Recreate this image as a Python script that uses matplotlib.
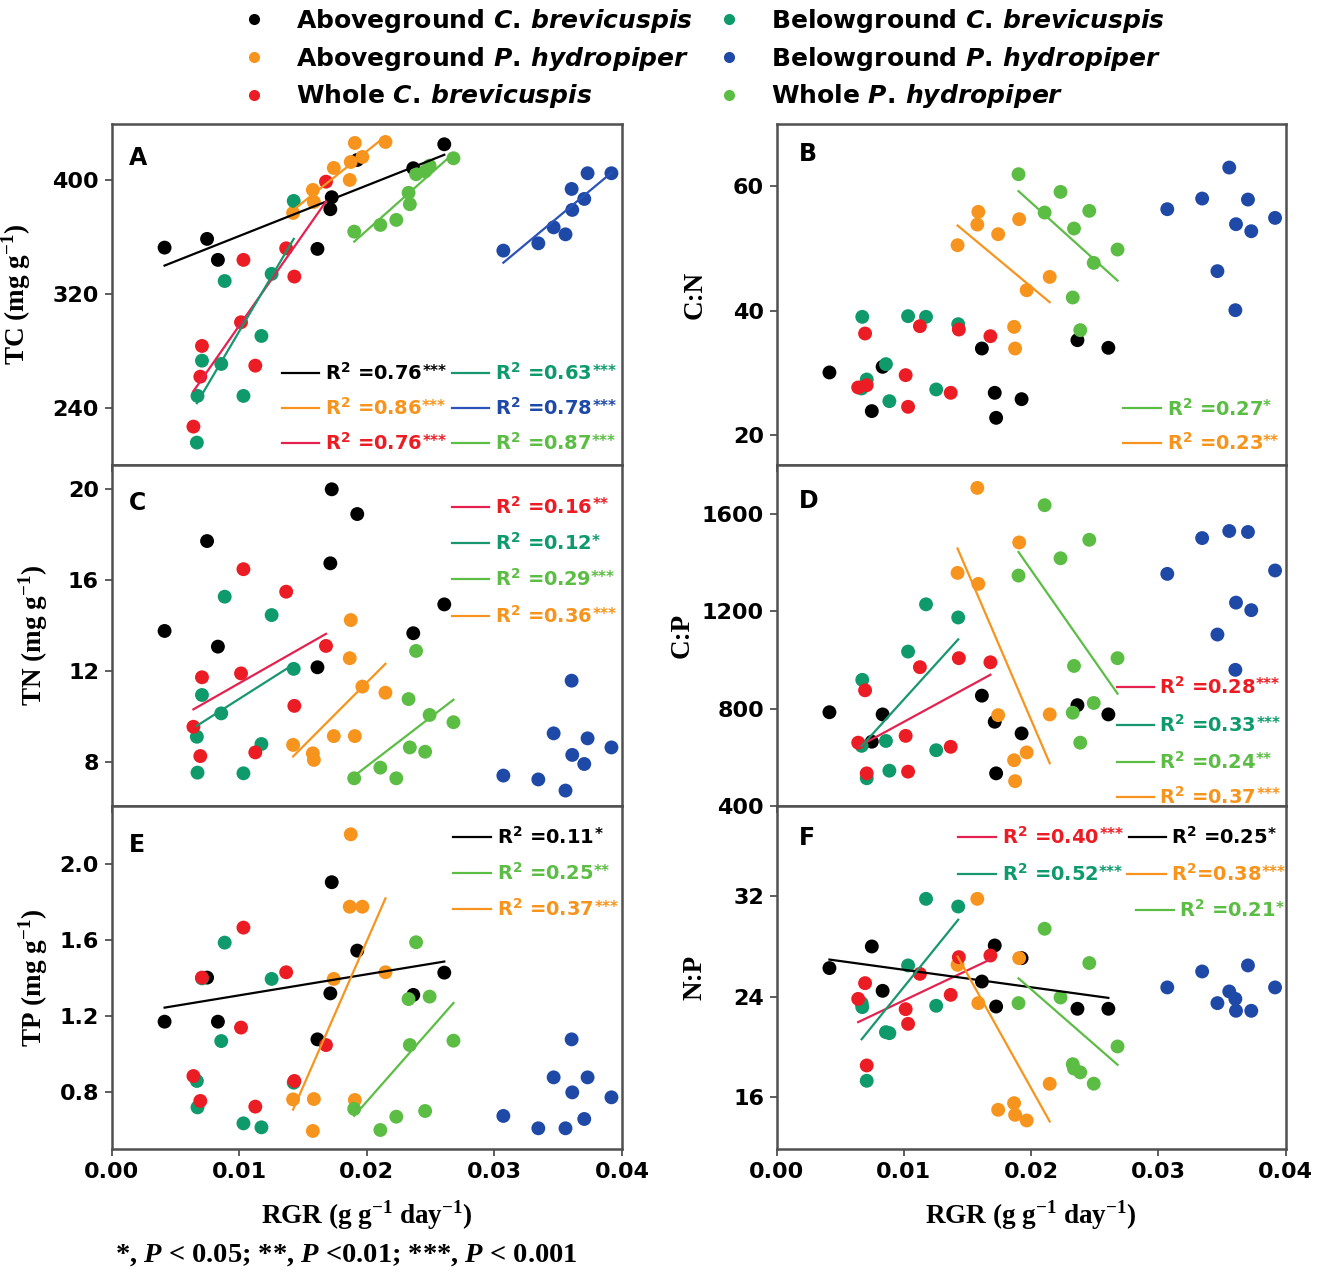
import numpy as np
import matplotlib
matplotlib.use("Agg")
import matplotlib.pyplot as plt
from matplotlib.lines import Line2D

plt.rcParams.update({
    "mathtext.fontset": "custom",
    "mathtext.rm": "DejaVu Sans:bold",
    "mathtext.it": "DejaVu Sans:bold:italic",
    "mathtext.bf": "Liberation Serif:bold",
    "mathtext.sf": "Liberation Serif:bold:italic",
})

# ---------------- data ----------------
# Aboveground C. brevicuspis
rgr_agcb = [0.00416, 0.00749, 0.00834, 0.01614, 0.01715, 0.01726, 0.01926, 0.02365, 0.02608]
tc_agcb = [352.6, 358.7, 344.0, 351.7, 379.5, 387.9, 414.0, 408.2, 425.0]
cn_agcb = [30.07, 23.86, 30.98, 33.92, 26.80, 22.78, 25.78, 35.26, 34.03]
tn_agcb = [13.76, 17.72, 13.07, 12.16, 16.74, 20.00, 18.91, 13.66, 14.93]
cp_agcb = [785, 664, 776, 853, 746, 534, 698, 814, 776]
tp_agcb = [1.170, 1.402, 1.170, 1.077, 1.319, 1.904, 1.544, 1.311, 1.428]
np_agcb = [26.30, 28.02, 24.49, 25.23, 28.10, 23.24, 27.09, 23.06, 23.06]

# Aboveground P. hydropiper
rgr_agph = [0.01423, 0.01578, 0.01586, 0.01742, 0.01867, 0.01875, 0.01907, 0.01966, 0.02147]
tc_agph = [376.9, 393.0, 384.6, 408.4, 400.0, 412.6, 425.9, 416.1, 426.6]
cn_agph = [50.52, 53.84, 55.88, 52.29, 37.40, 33.92, 54.70, 43.29, 45.43]
tn_agph = [8.74, 8.37, 8.08, 9.13, 12.56, 14.24, 9.13, 11.31, 11.04]
cp_agph = [1357, 1706, 1312, 773, 588, 502, 1482, 620, 776]
tp_agph = [0.761, 0.595, 0.763, 1.395, 1.775, 2.156, 0.758, 1.775, 1.430]
np_agph = [26.56, 31.81, 23.51, 15.02, 15.55, 14.62, 27.09, 14.17, 17.09]

# Whole C. brevicuspis
rgr_wcb = [0.00642, 0.00696, 0.00709, 0.01015, 0.01034, 0.01127, 0.01369, 0.01433, 0.01681]
tc_wcb = [227.2, 262.2, 283.7, 300.3, 344.0, 269.9, 352.1, 332.3, 398.8]
cn_wcb = [27.66, 36.33, 28.03, 29.64, 24.55, 37.51, 26.80, 36.97, 35.90]
tn_wcb = [9.54, 8.25, 11.72, 11.89, 16.48, 8.41, 15.49, 10.46, 13.10]
cp_wcb = [660, 875, 534, 688, 541, 970, 643, 1007, 990]
tp_wcb = [0.884, 0.753, 1.402, 1.139, 1.665, 0.723, 1.430, 0.858, 1.047]
np_wcb = [23.85, 25.10, 18.55, 23.03, 21.86, 25.84, 24.17, 27.17, 27.30]

# Belowground C. brevicuspis
rgr_bgcb = [0.00669, 0.00674, 0.00709, 0.00860, 0.00887, 0.01034, 0.01175, 0.01255, 0.01428]
tc_bgcb = [216.0, 248.7, 273.4, 271.1, 329.2, 248.7, 290.7, 334.2, 385.3]
cn_bgcb = [27.50, 39.01, 28.94, 31.41, 25.46, 39.12, 39.01, 27.34, 37.83]
tn_bgcb = [9.10, 7.52, 10.94, 10.13, 15.27, 7.49, 8.78, 14.46, 12.09]
cp_bgcb = [647, 918, 514, 667, 545, 1034, 1228, 629, 1174]
tp_bgcb = [0.858, 0.719, 1.398, 1.068, 1.586, 0.635, 0.614, 1.395, 0.849]
np_bgcb = [23.51, 23.19, 17.33, 21.20, 21.12, 26.51, 31.81, 23.30, 31.20]

# Belowground P. hydropiper
rgr_bgph = [0.03071, 0.03345, 0.03465, 0.03558, 0.03606, 0.03611, 0.03705, 0.03731, 0.03918]
tc_bgph = [350.5, 355.6, 366.8, 361.9, 393.7, 379.0, 386.7, 404.7, 404.7]
cn_bgph = [56.31, 58.02, 46.35, 63.00, 40.08, 53.90, 57.86, 52.77, 54.91]
tn_bgph = [7.39, 7.22, 9.25, 6.73, 11.57, 8.30, 7.90, 9.03, 8.63]
cp_bgph = [1353, 1500, 1104, 1529, 959, 1235, 1525, 1204, 1367]
tp_bgph = [0.674, 0.609, 0.877, 0.609, 1.077, 0.798, 0.658, 0.877, 0.772]
np_bgph = [24.76, 26.03, 23.51, 24.44, 23.85, 22.90, 26.51, 22.90, 24.76]

# Whole P. hydropiper
rgr_wph = [0.01902, 0.02107, 0.02232, 0.02328, 0.02338, 0.02387, 0.02458, 0.02493, 0.02680]
tc_wph = [363.8, 368.5, 372.0, 391.0, 383.0, 404.0, 406.0, 410.0, 415.2]
cn_wph = [61.93, 55.77, 59.09, 42.12, 53.20, 36.87, 56.04, 47.68, 49.83]
tn_wph = [7.27, 7.74, 7.27, 10.76, 8.63, 12.88, 8.44, 10.06, 9.74]
cp_wph = [1346, 1635, 1417, 783, 975, 660, 1493, 823, 1007]
tp_wph = [0.711, 0.600, 0.670, 1.289, 1.047, 1.588, 0.700, 1.302, 1.070]
np_wph = [23.51, 29.43, 23.96, 18.65, 18.30, 18.00, 26.70, 17.10, 20.06]

group_keys = ["agcb", "agph", "wcb", "bgcb", "bgph", "wph"]
group_labels = [
    r"Aboveground $\mathit{C.\,brevicuspis}$",
    r"Aboveground $\mathit{P.\,hydropiper}$",
    r"Whole $\mathit{C.\,brevicuspis}$",
    r"Belowground $\mathit{C.\,brevicuspis}$",
    r"Belowground $\mathit{P.\,hydropiper}$",
    r"Whole $\mathit{P.\,hydropiper}$",
]

# R^2 annotations per panel: (group, R2 value, significance stars)
r2_A = [("agcb", "0.76", "***"), ("agph", "0.86", "***"), ("wcb", "0.76", "***"),
        ("bgcb", "0.63", "***"), ("bgph", "0.78", "***"), ("wph", "0.87", "***")]
r2_B = [("wph", "0.27", "*"), ("agph", "0.23", "**")]
r2_C = [("wcb", "0.16", "**"), ("bgcb", "0.12", "*"), ("wph", "0.29", "***"), ("agph", "0.36", "***")]
r2_D = [("wcb", "0.28", "***"), ("bgcb", "0.33", "***"), ("wph", "0.24", "**"), ("agph", "0.37", "***")]
r2_E = [("agcb", "0.11", "*"), ("wph", "0.25", "**"), ("agph", "0.37", "***")]
r2_F = [("wcb", "0.40", "***"), ("agcb", "0.25", "*"), ("bgcb", "0.52", "***"),
        ("agph", "0.38", "***"), ("wph", "0.21", "*")]

# ---------------- styling ----------------
point_colors = {"agcb": "#000000", "agph": "#F7941D", "wcb": "#EC1C24",
                "bgcb": "#0E9A6B", "bgph": "#1F49A6", "wph": "#5CBD45"}
line_colors = {"agcb": "#000000", "agph": "#F7941D", "wcb": "#E3224F",
               "bgcb": "#179670", "bgph": "#2A52B8", "wph": "#5CBD45"}
zorders = {"agcb": 2, "agph": 3, "bgcb": 4, "wcb": 5, "wph": 6, "bgph": 6}

data = {}
for k in group_keys:
    g = globals()
    data[k] = {"rgr": np.array(g["rgr_" + k]),
               "TC": np.array(g["tc_" + k]), "CN": np.array(g["cn_" + k]),
               "TN": np.array(g["tn_" + k]), "CP": np.array(g["cp_" + k]),
               "TP": np.array(g["tp_" + k]), "NP": np.array(g["np_" + k])}

W, H = 1320, 1273
fig = plt.figure(figsize=(W / 100, H / 100), dpi=100)

lx, lw_ = 111.5 / W, 510.4 / W
rx, rw_ = 776.5 / W, 509.0 / W
rows = [(1 - 465 / H, 341 / H), (1 - 806 / H, 341 / H), (1 - 1149 / H, 343 / H)]

SPINE = "#505050"
TICKFONT = dict(family="DejaVu Sans", weight="bold", size=16)
LABFONT = dict(family="Liberation Serif", weight="bold", size=19.5)

panels = [
    ("TC", 0, 0, "A", (200.3, 439.2), [240, 320, 400], r"TC (mg g$^{\mathbf{-1}}$)", "%d", r2_A,
     [(0.334, 0.407, 0.418, 0.270), (0.334, 0.407, 0.418, 0.167), (0.334, 0.407, 0.418, 0.0645),
      (0.667, 0.740, 0.752, 0.270), (0.667, 0.740, 0.752, 0.167), (0.667, 0.740, 0.752, 0.0645)],
     -0.153, (0.034, 0.899)),
    ("CN", 1, 0, "B", (15.2, 70.0), [20, 40, 60], "C:N", "%d", r2_B,
     [(0.6815, 0.755, 0.767, 0.166), (0.6815, 0.755, 0.767, 0.064)],
     -0.135, (0.044, 0.913)),
    ("TN", 0, 1, "C", (6.05, 21.07), [8, 12, 16, 20], r"TN (mg g$^{\mathbf{-1}}$)", "%d", r2_C,
     [(0.6665, 0.7396, 0.751, 0.8777), (0.6665, 0.7396, 0.751, 0.7703),
      (0.6665, 0.7396, 0.751, 0.6648), (0.6665, 0.7396, 0.751, 0.5572)],
     -0.12, (0.034, 0.890)),
    ("CP", 1, 1, "D", (400, 1800), [400, 800, 1200, 1600], "C:P", "%d", r2_D,
     [(0.668, 0.742, 0.752, 0.350), (0.668, 0.742, 0.752, 0.2375),
      (0.668, 0.742, 0.752, 0.130), (0.668, 0.742, 0.752, 0.0273)],
     -0.16, (0.044, 0.893)),
    ("TP", 0, 2, "E", (0.5, 2.305), [0.8, 1.2, 1.6, 2.0], r"TP (mg g$^{\mathbf{-1}}$)", "%.1f", r2_E,
     [(0.670, 0.743, 0.756, 0.9105), (0.670, 0.743, 0.756, 0.8038), (0.670, 0.743, 0.756, 0.6988)],
     -0.12, (0.034, 0.886)),
    ("NP", 1, 2, "F", (11.9, 39.2), [16, 24, 32], "N:P", "%d", r2_F,
     [(0.3558, 0.4312, 0.443, 0.9105), (0.6916, 0.765, 0.775, 0.9105),
      (0.3558, 0.4312, 0.443, 0.8017), (0.689, 0.765, 0.775, 0.8017),
      (0.7069, 0.7815, 0.7916, 0.6968)],
     -0.135, (0.044, 0.908)),
]

for (var, col, row, letter, ylim, yticks, ylabel, fmt, r2list, keypos, labx, letpos) in panels:
    y0, h = rows[row]
    x0, w = (lx, lw_) if col == 0 else (rx, rw_)
    ax = fig.add_axes([x0, y0, w, h])
    for k in group_keys:
        d = data[k]
        ax.scatter(d["rgr"], d[var], s=100, color=point_colors[k], edgecolors="none",
                   zorder=zorders[k])
    # regressions
    for (k, r2, stars), (a0, a1, at, ay) in zip(r2list, keypos):
        d = data[k]
        slope, icpt = np.polyfit(d["rgr"], d[var], 1)
        xs = np.array([d["rgr"].min(), d["rgr"].max()])
        ax.plot(xs, slope * xs + icpt, color=line_colors[k], lw=1.6, zorder=8)
        ax.plot([a0, a1], [ay, ay], transform=ax.transAxes, color=line_colors[k],
                lw=1.6, clip_on=False, zorder=9)
        sep = "" if (letter == "F" and k == "agph") else " "
        t = ax.text(at, ay, r"R$^{\mathrm{2}}$" + sep + "=" + r2, transform=ax.transAxes,
                    color=point_colors[k], ha="left", va="center",
                    family="DejaVu Sans", weight="bold", fontsize=14, zorder=9)
        ax.annotate(stars, xy=(1.0, 0.93), xycoords=t, ha="left", va="top",
                    color=point_colors[k], family="DejaVu Sans", weight="bold",
                    fontsize=11, zorder=9, annotation_clip=False)
    ax.set_xlim(0, 0.04)
    ax.set_ylim(*ylim)
    ax.set_xticks([0, 0.01, 0.02, 0.03, 0.04])
    ax.set_yticks(yticks)
    ax.set_yticklabels([fmt % v for v in yticks], fontdict=TICKFONT)
    if row == 2:
        ax.set_xticklabels(["0.00", "0.01", "0.02", "0.03", "0.04"], fontdict=TICKFONT)
        ax.set_xlabel(r"RGR (g g$^{\mathbf{-1}}$ day$^{\mathbf{-1}}$)", **LABFONT)
        ax.xaxis.set_label_coords(0.5, -0.142)
    else:
        ax.set_xticklabels([])
    ax.set_ylabel(ylabel, **LABFONT)
    ax.yaxis.set_label_coords(labx, 0.5)
    ax.tick_params(direction="out", length=5, width=1.3, color=SPINE, pad=4)
    for sp in ax.spines.values():
        sp.set_color(SPINE)
        sp.set_linewidth(1.8)
    ax.text(letpos[0], letpos[1], letter, transform=ax.transAxes, ha="left", va="center",
            family="DejaVu Sans", weight="bold", fontsize=17)

# top legend
handles = [Line2D([], [], ls="", marker="o", markersize=8, color=point_colors[k],
                  markeredgecolor="none") for k in group_keys]
fig.legend(handles, group_labels, ncol=2, loc="upper left",
           bbox_to_anchor=(241.5 / W, 1 - 7 / H), frameon=False,
           prop=dict(family="DejaVu Sans", weight="bold", size=18),
           handlelength=1.0, handletextpad=1.18, columnspacing=0.95,
           labelspacing=0.39, borderpad=0.0, borderaxespad=0.0)

# footnote
fig.text(115 / W, 1 - 1255 / H,
         r"*, $\mathsf{P}$ < 0.05; **, $\mathsf{P}$ <0.01; ***, $\mathsf{P}$ < 0.001",
         family="Liberation Serif", weight="bold", fontsize=20.5, ha="left", va="center")

fig.savefig("out.png", dpi=100)
